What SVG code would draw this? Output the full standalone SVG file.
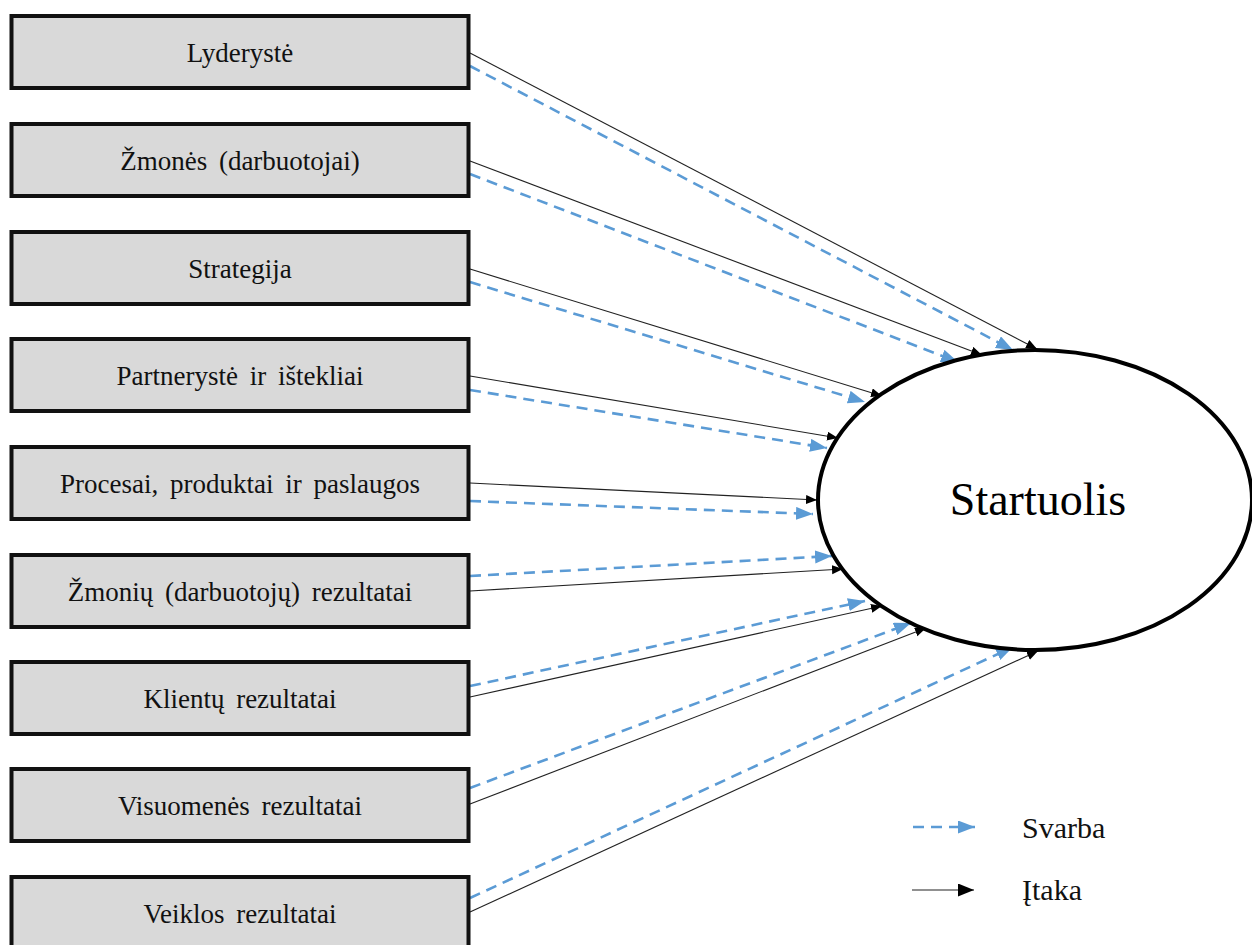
<svg xmlns="http://www.w3.org/2000/svg" width="1252" height="945" viewBox="0 0 1252 945">
<style>
.box{fill:#d9d9d9;stroke:#111;stroke-width:4}
.lbl{font-family:"Liberation Serif","Times New Roman",serif;font-size:27px;fill:#111;text-anchor:middle;word-spacing:5px}
.inf{stroke:#222;stroke-width:1.1;fill:none}
.imp{stroke:#5b9bd5;stroke-width:2.6;fill:none;stroke-dasharray:11 7}
.leg{font-family:"Liberation Serif","Times New Roman",serif;font-size:30px;fill:#111}
</style>
<defs>
<marker id="ab" markerUnits="userSpaceOnUse" markerWidth="12" markerHeight="10" refX="11" refY="4.5" orient="auto"><path d="M0,0 L11,4.5 L0,9 z" fill="#000"/></marker>
<marker id="abl" markerUnits="userSpaceOnUse" markerWidth="18" markerHeight="14" refX="16" refY="6.5" orient="auto"><path d="M0,0 L16,6.5 L0,13 z" fill="#000"/></marker>
<marker id="aw" markerUnits="userSpaceOnUse" markerWidth="18" markerHeight="14" refX="17" refY="6.5" orient="auto"><path d="M0,0 L17,6.5 L0,13 z" fill="#5b9bd5"/></marker>
</defs>
<rect width="1252" height="945" fill="#fff"/>
<g id="connectors">
<line class="inf" x1="470" y1="53" x2="1037" y2="349" marker-end="url(#ab)"/>
<line class="imp" x1="470" y1="66" x2="1013" y2="350" marker-end="url(#aw)"/>
<line class="inf" x1="470" y1="161" x2="982" y2="355" marker-end="url(#ab)"/>
<line class="imp" x1="470" y1="174" x2="958" y2="362" marker-end="url(#aw)"/>
<line class="inf" x1="470" y1="269" x2="882" y2="396" marker-end="url(#ab)"/>
<line class="imp" x1="470" y1="282" x2="865" y2="402" marker-end="url(#aw)"/>
<line class="inf" x1="470" y1="376" x2="838" y2="438" marker-end="url(#ab)"/>
<line class="imp" x1="470" y1="390" x2="827" y2="448" marker-end="url(#aw)"/>
<line class="inf" x1="470" y1="483" x2="817" y2="500" marker-end="url(#ab)"/>
<line class="imp" x1="470" y1="501" x2="813" y2="514" marker-end="url(#aw)"/>
<line class="imp" x1="470" y1="576" x2="832" y2="556" marker-end="url(#aw)"/>
<line class="inf" x1="470" y1="591" x2="843" y2="569" marker-end="url(#ab)"/>
<line class="imp" x1="470" y1="686" x2="865" y2="601" marker-end="url(#aw)"/>
<line class="inf" x1="470" y1="697" x2="882" y2="606" marker-end="url(#ab)"/>
<line class="imp" x1="470" y1="788" x2="911" y2="623" marker-end="url(#aw)"/>
<line class="inf" x1="470" y1="804" x2="926" y2="628" marker-end="url(#ab)"/>
<line class="imp" x1="470" y1="898" x2="1013" y2="647" marker-end="url(#aw)"/>
<line class="inf" x1="470" y1="912" x2="1038" y2="651" marker-end="url(#ab)"/>
</g>
<g id="n1"><rect class="box" x="11.5" y="16" width="457" height="72"/><text class="lbl" x="240" y="62">Lyderystė</text></g>
<g id="n2"><rect class="box" x="11.5" y="124" width="457" height="72"/><text class="lbl" x="240" y="170">Žmonės (darbuotojai)</text></g>
<g id="n3"><rect class="box" x="11.5" y="232" width="457" height="72"/><text class="lbl" x="240" y="278">Strategija</text></g>
<g id="n4"><rect class="box" x="11.5" y="339" width="457" height="72"/><text class="lbl" x="240" y="385">Partnerystė ir ištekliai</text></g>
<g id="n5"><rect class="box" x="11.5" y="447" width="457" height="72"/><text class="lbl" x="240" y="493">Procesai, produktai ir paslaugos</text></g>
<g id="n6"><rect class="box" x="11.5" y="555" width="457" height="72"/><text class="lbl" x="240" y="601">Žmonių (darbuotojų) rezultatai</text></g>
<g id="n7"><rect class="box" x="11.5" y="662" width="457" height="72"/><text class="lbl" x="240" y="708">Klientų rezultatai</text></g>
<g id="n8"><rect class="box" x="11.5" y="769" width="457" height="72"/><text class="lbl" x="240" y="815">Visuomenės rezultatai</text></g>
<g id="n9"><rect class="box" x="11.5" y="877" width="457" height="72"/><text class="lbl" x="240" y="923">Veiklos rezultatai</text></g>
<g id="startuolis"><ellipse cx="1035" cy="500" rx="217" ry="150" fill="#fff" stroke="#000" stroke-width="4"/><text x="1038" y="515" font-family="'Liberation Serif','Times New Roman',serif" font-size="46" text-anchor="middle" fill="#000">Startuolis</text></g>
<g id="legend">
<line class="imp" x1="913" y1="827" x2="975" y2="827" stroke-dasharray="10 7" marker-end="url(#aw)"/>
<text class="leg" x="1022" y="838">Svarba</text>
<line class="inf" x1="912" y1="890" x2="974" y2="890" stroke-width="1.5" marker-end="url(#abl)"/>
<text class="leg" x="1022" y="900">Įtaka</text>
</g>
</svg>
